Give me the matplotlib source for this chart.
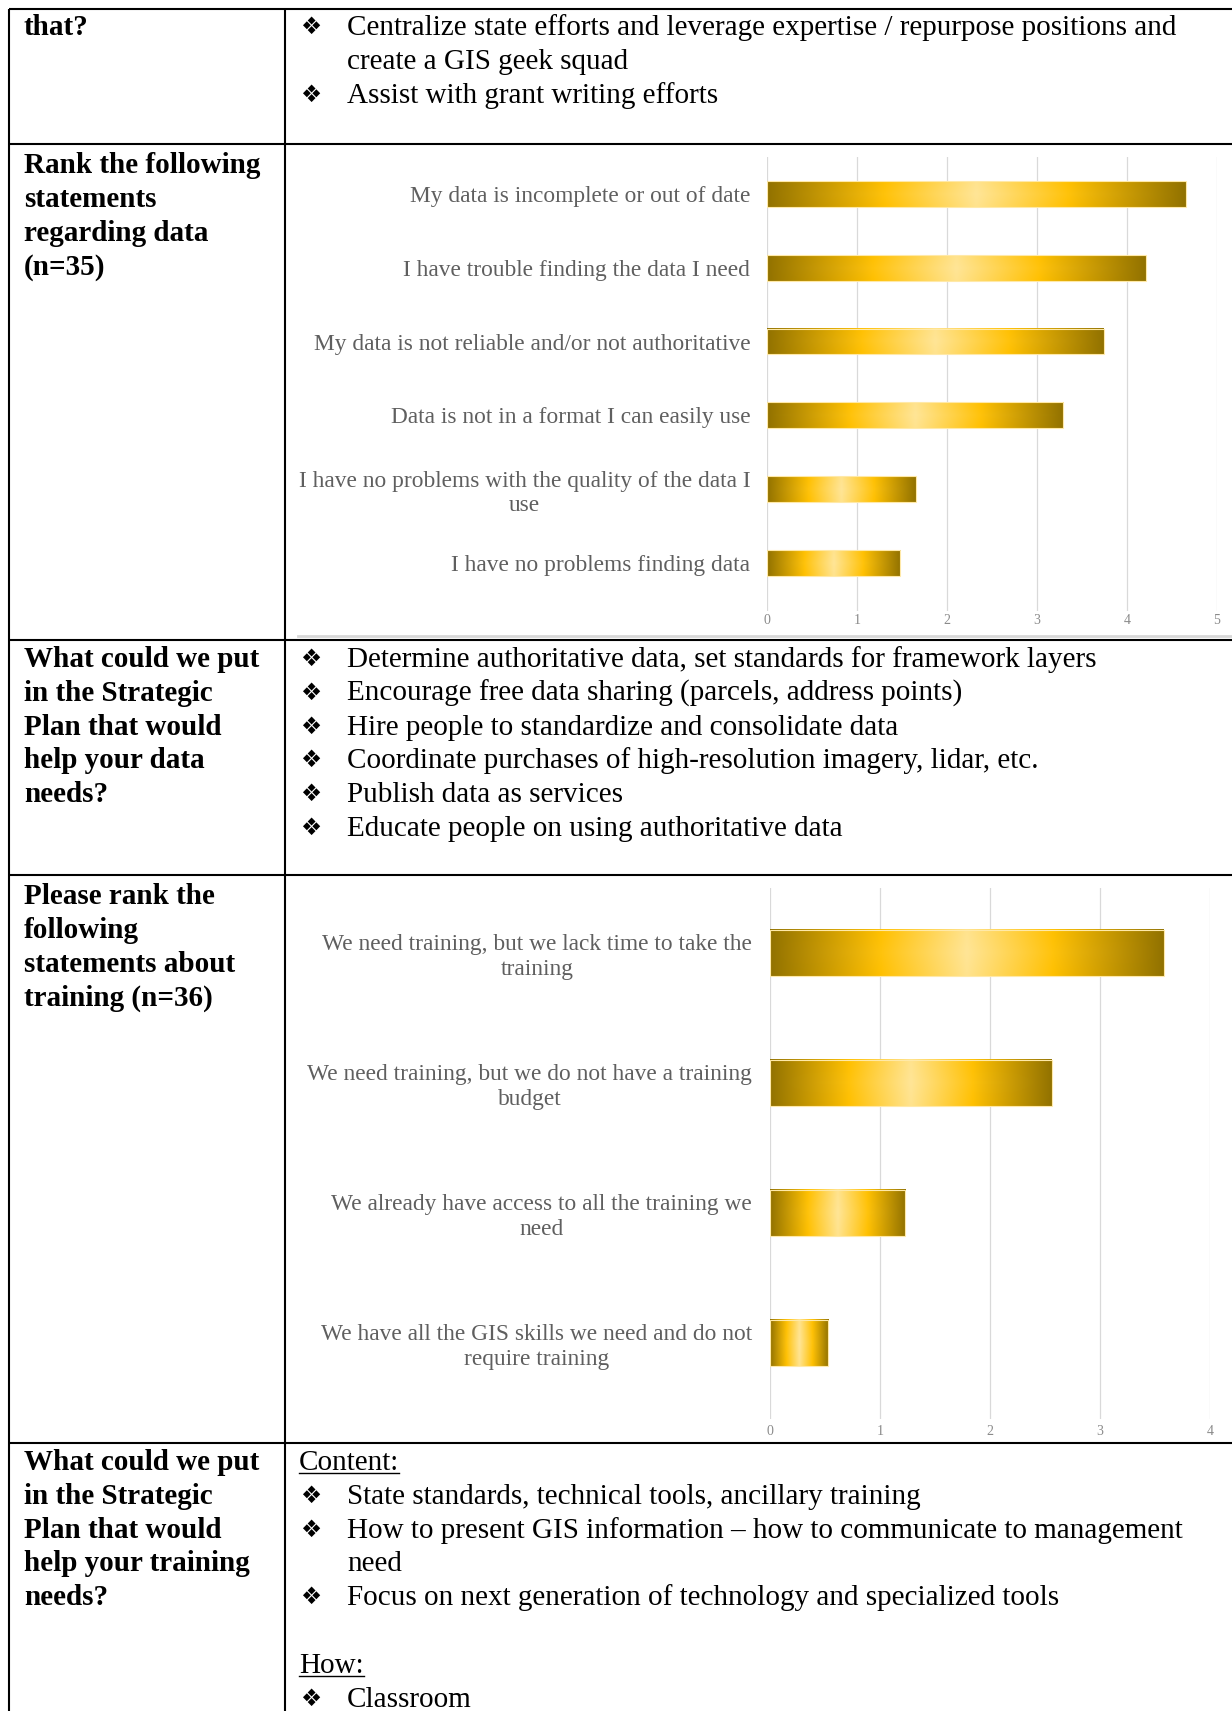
import numpy as np
import matplotlib
matplotlib.use("Agg")
import matplotlib.pyplot as plt
from matplotlib.colors import LinearSegmentedColormap

# chart data
data_labels = ["My data is incomplete or out of date",
               "I have trouble finding the data I need",
               "My data is not reliable and/or not authoritative",
               "Data is not in a format I can easily use",
               "I have no problems with the quality of the data I\nuse",
               "I have no problems finding data"]
data_scores = [4.65, 4.21, 3.74, 3.29, 1.65, 1.48]
data_ticks = [0, 1, 2, 3, 4, 5]

train_labels = ["We need training, but we lack time to take the\ntraining",
                "We need training, but we do not have a training\nbudget",
                "We already have access to all the training we\nneed",
                "We have all the GIS skills we need and do not\nrequire training"]
train_scores = [3.58, 2.56, 1.23, 0.53]
train_ticks = [0, 1, 2, 3, 4]

# table text
row0_left = ["that?"]
row0_right = [("b", "Centralize state efforts and leverage expertise / repurpose positions and"),
              ("c", "create a GIS geek squad"),
              ("b", "Assist with grant writing efforts")]
row1_left = ["Rank the following", "statements", "regarding data", "(n=35)"]
row2_left = ["What could we put", "in the Strategic", "Plan that would", "help your data", "needs?"]
row2_right = [("b", "Determine authoritative data, set standards for framework layers"),
              ("b", "Encourage free data sharing (parcels, address points)"),
              ("b", "Hire people to standardize and consolidate data"),
              ("b", "Coordinate purchases of high-resolution imagery, lidar, etc."),
              ("b", "Publish data as services"),
              ("b", "Educate people on using authoritative data")]
row3_left = ["Please rank the", "following", "statements about", "training (n=36)"]
row4_left = ["What could we put", "in the Strategic", "Plan that would", "help your training", "needs?"]
row4_right = [("u", "Content:"),
              ("b", "State standards, technical tools, ancillary training"),
              ("b", "How to present GIS information \u2013 how to communicate to management"),
              ("c", "need"),
              ("b", "Focus on next generation of technology and specialized tools"),
              ("c", ""),
              ("u", "How:"),
              ("b", "Classroom")]

W, H = 1232, 1711
SERIF = "Liberation Serif"
FS = 21
LINE = 33.8
BOFF = 9  # baseline below the visual line centre

fig = plt.figure(figsize=(W / 100, H / 100), dpi=100)
base = fig.add_axes([0, 0, 1, 1])
base.set_xlim(0, W)
base.set_ylim(H, 0)
base.axis("off")

# table grid
lw = 1.5
for y in [9, 144, 640, 875, 1443]:
    base.plot([9, W], [y, y], color="black", lw=lw, solid_capstyle="butt")
for x in [9, 285]:
    base.plot([x, x], [9, H], color="black", lw=lw, solid_capstyle="butt")
# faint edge under the first chart picture
base.plot([298, W], [636, 636], color="#d8d8d8", lw=2)


def left_text(lines, y0):
    for i, s in enumerate(lines):
        base.text(24, y0 + i * LINE + BOFF, s, fontsize=FS, family=SERIF,
                  fontweight="bold", va="baseline", ha="left")


def right_text(items, y0):
    for i, (kind, s) in enumerate(items):
        yb = y0 + i * LINE + BOFF
        if kind == "u":
            t = base.text(299, yb, s, fontsize=FS, family=SERIF, va="baseline")
            fig.canvas.draw()
            bb = t.get_window_extent().transformed(base.transData.inverted())
            base.plot([bb.x0, bb.x1], [yb + 3, yb + 3], color="black", lw=1)
        else:
            if kind == "b":
                base.text(311, yb - 1, "\u2756", fontsize=FS - 4, family="DejaVu Sans",
                          va="baseline", ha="center")
            base.text(347, yb, s, fontsize=FS, family=SERIF, va="baseline")


left_text(row0_left, 26)
right_text(row0_right, 26)
left_text(row1_left, 164)
left_text(row2_left, 658)
right_text(row2_right, 658)
left_text(row3_left, 895)
left_text(row4_left, 1461)
right_text(row4_right, 1461)

gold = LinearSegmentedColormap.from_list(
    "gold", [(0, "#927200"), (0.28, "#FFC000"), (0.5, "#FFE38E"),
             (0.72, "#FFC000"), (1, "#927200")])


def gold_bars(ax, labels, scores, ticks, height, ylim, label_pad, tick_pad):
    pos = np.arange(len(labels))
    bars = ax.barh(pos, scores, height=height, color="none",
                   edgecolor="#FFE9A8", lw=0.8, zorder=3)
    gx = np.linspace(0, 1, 256)
    gy = np.linspace(-1, 1, 40)
    X, Y = np.meshgrid(gx, gy)
    rgb = gold(X)[..., :3]
    glow = 0.08 * np.clip(1 - np.abs(Y), 0, 1) * np.clip(1 - np.abs(2 * X - 1), 0, 1)
    rgb = rgb + (1 - rgb) * glow[..., None]
    for b in bars:
        x0, y0 = b.get_x(), b.get_y()
        ax.imshow(rgb, extent=[x0, x0 + b.get_width(), y0 + b.get_height(), y0],
                  aspect="auto", interpolation="bilinear", zorder=2)
    ax.set_xlim(ticks[0], ticks[-1])
    ax.set_ylim(*ylim)
    ax.set_xticks(ticks)
    ax.set_xticklabels([str(t) for t in ticks])
    ax.set_yticks(pos)
    ax.set_yticklabels(labels, multialignment="center")
    for lab in ax.get_yticklabels():
        lab.set_family(SERIF)
        lab.set_fontsize(16.8)
        lab.set_color("#5f5f5f")
    for lab in ax.get_xticklabels():
        lab.set_family(SERIF)
        lab.set_fontsize(10)
        lab.set_color("#8a8a8a")
    ax.tick_params(axis="y", length=0, pad=label_pad)
    ax.tick_params(axis="x", length=0, pad=tick_pad)
    for sp in ax.spines.values():
        sp.set_visible(False)
    ax.set_axisbelow(True)
    ax.xaxis.grid(True, color="#d9d9d9", lw=0.9)
    ax.patch.set_alpha(0)


def fig_rect(x0, x1, y0, y1):
    return [x0 / W, 1 - y1 / H, (x1 - x0) / W, (y1 - y0) / H]


ax1 = fig.add_axes(fig_rect(767, 1217, 157, 611))
gold_bars(ax1, data_labels, data_scores, data_ticks, 0.35, (5.65, -0.5), 12, 2)

ax2 = fig.add_axes(fig_rect(770, 1210, 888, 1419))
gold_bars(ax2, train_labels, train_scores, train_ticks, 0.355, (3.585, -0.5), 13, 4)

fig.savefig("out.png", dpi=100)
